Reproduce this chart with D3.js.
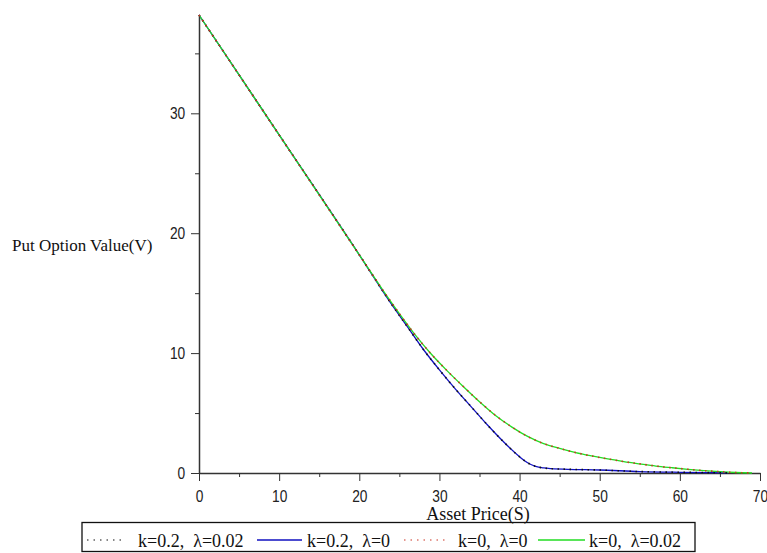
<!DOCTYPE html>
<html>
<head>
<meta charset="utf-8">
<script src="https://cdn.jsdelivr.net/npm/d3@7"></script>
<style>
  body { margin: 0; background: #fff; }
  .tick text { font-family: "Liberation Sans", Arial, sans-serif; font-size: 16px; fill: #222; }
  .axisLabel { font-family: "Liberation Serif", "Times New Roman", serif; font-size: 17px; fill: #111; }
  .legendText { font-family: "Liberation Serif", "Times New Roman", serif; font-size: 18px; fill: #111; }
</style>
</head>
<body>
<div id="chart"></div>
<script>
// asset price grid and put values
const priceA = [0, 10, 20, 24, 26, 28, 30, 32, 34, 36, 38, 40, 41, 42, 43, 44, 46, 50, 55, 60, 64, 66];
const valueK02 = [38.2, 28.2, 18.2, 14.1, 12.2, 10.3, 8.6, 7.0, 5.5, 4.0, 2.6, 1.35, 0.85, 0.55, 0.42, 0.36, 0.31, 0.25, 0.12, 0.06, 0.03, 0.01];

const priceB = [0, 10, 20, 23, 25, 27, 29, 31, 33, 35, 37, 39, 41, 43, 45, 47, 49, 51, 53, 55, 57, 59, 61, 63, 65, 67, 69];
const valueK0 = [38.2, 28.2, 18.2, 15.2, 13.3, 11.5, 9.9, 8.5, 7.2, 5.95, 4.8, 3.85, 3.05, 2.45, 2.05, 1.7, 1.42, 1.17, 0.95, 0.76, 0.58, 0.44, 0.31, 0.2, 0.11, 0.04, 0];

const series = [
  { label: 'k=0.2,  \u03bb=0',    x: priceA, y: valueK02, color: '#1010c0', dash: null },
  { label: 'k=0,  \u03bb=0.02',   x: priceB, y: valueK0,  color: '#22dd22', dash: null },
  { label: 'k=0.2,  \u03bb=0.02', x: priceA, y: valueK02, color: '#111111', dash: '1.5,4.5' },
  { label: 'k=0,  \u03bb=0',      x: priceB, y: valueK0,  color: '#cc3322', dash: '1.5,4.5' }
];
const legendOrder = [2, 0, 3, 1];

const xTicks = [0, 10, 20, 30, 40, 50, 60, 70];
const yTicks = [0, 10, 20, 30];

const W = 767, H = 553;
const margin = { left: 199, right: 7, top: 15, bottom: 80 };

const svg = d3.select('#chart').append('svg')
    .attr('width', W)
    .attr('height', H);

const xScale = d3.scaleLinear().domain([0, 70]).range([margin.left, W - margin.right]);
const yScale = d3.scaleLinear().domain([0, 38.2]).range([H - margin.bottom, margin.top]);

// minor ticks
svg.append('g')
    .attr('transform', 'translate(0,' + yScale(0) + ')')
    .call(d3.axisBottom(xScale).tickValues(d3.range(5, 70, 10)).tickSize(4).tickFormat(''))
    .call(g => g.select('.domain').remove())
    .selectAll('line').attr('stroke', '#333');
svg.append('g')
    .attr('transform', 'translate(' + xScale(0) + ',0)')
    .call(d3.axisLeft(yScale).tickValues(d3.range(5, 38, 10)).tickSize(4).tickFormat(''))
    .call(g => g.select('.domain').remove())
    .selectAll('line').attr('stroke', '#333');

// X axis
const xAxis = svg.append('g')
    .attr('transform', 'translate(0,' + yScale(0) + ')')
    .call(d3.axisBottom(xScale).tickValues(xTicks).tickSize(8).tickSizeOuter(0).tickPadding(10));
xAxis.select('.domain').attr('stroke', '#333').attr('stroke-width', 1.5);
xAxis.selectAll('.tick line').attr('stroke', '#333');
// narrow digits like the original
xAxis.selectAll('.tick text').attr('transform', 'scale(0.86,1)');

// Y axis
const yAxis = svg.append('g')
    .attr('transform', 'translate(' + xScale(0) + ',0)')
    .call(d3.axisLeft(yScale).tickValues(yTicks).tickSize(8).tickSizeOuter(0).tickPadding(6));
yAxis.select('.domain').attr('stroke', '#333').attr('stroke-width', 1.5);
yAxis.selectAll('.tick line').attr('stroke', '#333');
yAxis.selectAll('.tick text').attr('x', -16).attr('transform', 'scale(0.86,1)');

// axis labels
svg.append('text')
    .attr('class', 'axisLabel')
    .attr('x', 478).attr('y', 520)
    .attr('text-anchor', 'middle')
    .style('font-size', '18px')
    .text('Asset Price(S)');
svg.append('text')
    .attr('class', 'axisLabel')
    .attr('x', 12).attr('y', 251)
    .text('Put Option Value(V)');

// curves
const line = d3.line()
    .x(d => xScale(d[0]))
    .y(d => yScale(d[1]))
    .curve(d3.curveMonotoneX);

series.forEach(s => {
  svg.append('path')
      .datum(s.x.map((v, i) => [v, s.y[i]]))
      .attr('fill', 'none')
      .attr('stroke', s.color)
      .attr('stroke-width', s.dash ? 1.6 : 1.3)
      .attr('stroke-dasharray', s.dash)
      .attr('d', line);
});

// legend
const legend = svg.append('g');
legend.append('rect')
    .attr('x', 82).attr('y', 522.5)
    .attr('width', 613).attr('height', 29)
    .attr('fill', 'none')
    .attr('stroke', '#111')
    .attr('stroke-width', 1.3);

const legendPos = [
  { x0: 87,  x1: 126, tx: 138 },
  { x0: 257, x1: 302, tx: 307 },
  { x0: 404, x1: 447, tx: 458 },
  { x0: 538, x1: 585, tx: 589 }
];
legendOrder.forEach((si, i) => {
  const s = series[si], p = legendPos[i];
  legend.append('line')
      .attr('x1', p.x0).attr('x2', p.x1)
      .attr('y1', 540).attr('y2', 540)
      .attr('stroke', s.color)
      .attr('stroke-width', s.dash ? 1.2 : 1.6)
      .attr('stroke-dasharray', s.dash ? '1.5,5' : null);
  legend.append('text')
      .attr('class', 'legendText')
      .attr('x', p.tx).attr('y', 546.5)
      .attr('xml:space', 'preserve')
      .style('white-space', 'pre')
      .text(s.label);
});
</script>
</body>
</html>
